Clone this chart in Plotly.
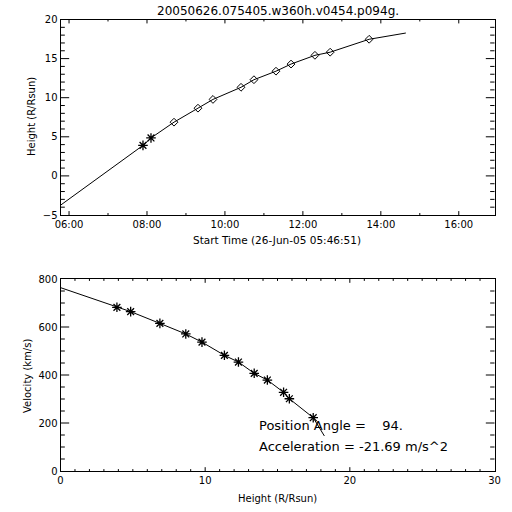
import plotly.graph_objects as go

# ---------------- data ----------------
title_text = "20050626.075405.w360h.v0454.p094g."

c2_times = ["2005-06-26 07:53:50", "2005-06-26 08:06:10"]
c2_heights = [3.9, 4.85]
c3_times = ["2005-06-26 08:41:35", "2005-06-26 09:18:30", "2005-06-26 09:41:35",
            "2005-06-26 10:24:45", "2005-06-26 10:44:40", "2005-06-26 11:18:35",
            "2005-06-26 11:41:45", "2005-06-26 12:18:35", "2005-06-26 12:42:00",
            "2005-06-26 13:42:00"]
c3_heights = [6.87, 8.66, 9.78, 11.33, 12.3, 13.39, 14.3, 15.42, 15.82, 17.47]

fit_times = ["2005-06-26 05:46:51", "2005-06-26 07:53:50",
             "2005-06-26 08:06:10", "2005-06-26 08:41:35", "2005-06-26 09:18:30",
             "2005-06-26 09:41:35", "2005-06-26 10:24:45", "2005-06-26 10:44:40",
             "2005-06-26 11:18:35", "2005-06-26 11:41:45", "2005-06-26 12:18:35",
             "2005-06-26 12:42:00", "2005-06-26 13:42:00", "2005-06-26 14:38:30"]
fit_heights = [-3.75, 3.9, 4.85, 6.87, 8.66, 9.78, 11.33, 12.3, 13.39, 14.3,
               15.42, 15.82, 17.47, 18.27]

vel_heights = [3.9, 4.85, 6.87, 8.66, 9.78, 11.33, 12.3, 13.39, 14.3, 15.42, 15.82, 17.47]
vel_values = [682, 664, 615, 571, 537, 482, 454, 407, 379, 328, 301, 222]
vline_heights = [0.0, 3.9, 4.85, 6.87, 8.66, 9.78, 11.33, 12.3, 13.39, 14.3, 15.42, 15.82, 17.47, 18.24]
vline_values = [764, 682, 664, 615, 571, 537, 482, 454, 407, 379, 328, 301, 222, 146]

time_range = ["2005-06-26 05:46:51", "2005-06-26 16:55:00"]
time_tick0 = "2005-06-26 06:00:00"

# tick positions (major / minor) for each axis
top_x_major = ["2005-06-26 06:00", "2005-06-26 08:00", "2005-06-26 10:00",
               "2005-06-26 12:00", "2005-06-26 14:00", "2005-06-26 16:00"]
top_x_minor = ["2005-06-26 07:00", "2005-06-26 09:00", "2005-06-26 11:00",
               "2005-06-26 13:00", "2005-06-26 15:00"]
top_y_major = [0, 5, 10, 15]
top_y_minor = [-4, -3, -2, -1, 1, 2, 3, 4, 6, 7, 8, 9, 11, 12, 13, 14, 16, 17, 18, 19]
bot_x_major = [10, 20]
bot_x_minor = [1, 2, 3, 4, 5, 6, 7, 8, 9, 11, 12, 13, 14, 15, 16, 17, 18, 19,
               21, 22, 23, 24, 25, 26, 27, 28, 29]
bot_y_major = [200, 400, 600]
bot_y_minor = [50, 100, 150, 250, 300, 350, 450, 500, 550, 650, 700, 750]

x_title_top = "Start Time (26-Jun-05 05:46:51)"
y_title_top = "Height (R/Rsun)"
x_title_bot = "Height (R/Rsun)"
y_title_bot = "Velocity (km/s)"
note_pa = "Position Angle =    94."
note_acc = "Acceleration = -21.69 m/s^2"

# ---------------- figure ----------------
FONT = "DejaVu Sans"
W = H = 512
MAJ, MIN = 0.02, 0.01   # tick length as a fraction of the plot (IDL style)


def px(x):
    return x / W


def py(y):
    return 1 - y / H


fig = go.Figure()

fig.add_trace(go.Scatter(x=fit_times, y=fit_heights, mode="lines",
                         line=dict(color="black", width=1), xaxis="x", yaxis="y",
                         showlegend=False))
fig.add_trace(go.Scatter(x=c2_times, y=c2_heights, mode="markers",
                         marker=dict(symbol="asterisk-open", size=8, color="black",
                                     line=dict(color="black", width=1.3)),
                         xaxis="x", yaxis="y", showlegend=False))
fig.add_trace(go.Scatter(x=c3_times, y=c3_heights, mode="markers",
                         marker=dict(symbol="diamond-open", size=6, color="black",
                                     line=dict(color="black", width=1)),
                         xaxis="x", yaxis="y", showlegend=False))

fig.add_trace(go.Scatter(x=vline_heights, y=vline_values, mode="lines",
                         line=dict(color="black", width=1), xaxis="x2", yaxis="y2",
                         showlegend=False))
fig.add_trace(go.Scatter(x=vel_heights, y=vel_values, mode="markers",
                         marker=dict(symbol="asterisk-open", size=8, color="black",
                                     line=dict(color="black", width=1.3)),
                         xaxis="x2", yaxis="y2", showlegend=False))

base = dict(showline=True, linecolor="black", linewidth=1, showgrid=False,
            zeroline=False, automargin=False, mirror=True, ticks="",
            tickfont=dict(family=FONT, size=10, color="black"))

xdom = [px(60.5), px(494.5)]
ydom_top = [py(215), py(19.5)]
ydom_bot = [py(471), py(279)]

fig.update_layout(
    width=W, height=H,
    margin=dict(l=0, r=0, t=0, b=0),
    paper_bgcolor="white", plot_bgcolor="white",
    font=dict(family=FONT, color="black"),
    hovermode=False,
    xaxis=dict(domain=xdom, anchor="y", type="date", range=time_range,
               tick0=time_tick0, dtick=7200000, tickformat="%H:%M", **base),
    yaxis=dict(domain=ydom_top, anchor="x", range=[-5, 20], dtick=5, **base),
    xaxis2=dict(domain=xdom, anchor="y2", range=[0, 30], dtick=10, **base),
    yaxis2=dict(domain=ydom_bot, anchor="x2", range=[0, 800], dtick=200, **base),
)

# inward ticks on all four sides, placed in axis coordinates
tick_line = dict(color="black", width=1)


def add_x_ticks(vals, xref, yref, length):
    for v in vals:
        fig.add_shape(type="line", xref=xref, yref=yref, x0=v, x1=v, y0=0, y1=length,
                      line=tick_line)
        fig.add_shape(type="line", xref=xref, yref=yref, x0=v, x1=v, y0=1,
                      y1=1 - length, line=tick_line)


def add_y_ticks(vals, xref, yref, length):
    for v in vals:
        fig.add_shape(type="line", xref=xref, yref=yref, y0=v, y1=v, x0=0, x1=length,
                      line=tick_line)
        fig.add_shape(type="line", xref=xref, yref=yref, y0=v, y1=v, x0=1,
                      x1=1 - length, line=tick_line)


add_x_ticks(top_x_major, "x", "y domain", MAJ)
add_x_ticks(top_x_minor, "x", "y domain", MIN)
add_y_ticks(top_y_major, "x domain", "y", MAJ)
add_y_ticks(top_y_minor, "x domain", "y", MIN)
add_x_ticks(bot_x_major, "x2", "y2 domain", MAJ)
add_x_ticks(bot_x_minor, "x2", "y2 domain", MIN)
add_y_ticks(bot_y_major, "x2 domain", "y2", MAJ)
add_y_ticks(bot_y_minor, "x2 domain", "y2", MIN)

ann = [
    dict(text=title_text, x=px(277.5), y=py(11), size=12, angle=0, xanchor="center"),
    dict(text=x_title_top, x=px(277), y=py(240), size=10.5, angle=0, xanchor="center"),
    dict(text=y_title_top, x=px(31), y=py(117), size=10, angle=-90, xanchor="center"),
    dict(text=x_title_bot, x=px(277), y=py(498), size=10, angle=0, xanchor="center"),
    dict(text=y_title_bot, x=px(27), y=py(376), size=10, angle=-90, xanchor="center"),
    dict(text=note_pa.replace(" ", "\u00a0"), x=px(257), y=py(425), size=13, angle=0,
         xanchor="left"),
    dict(text=note_acc.replace(" ", "\u00a0"), x=px(257), y=py(446), size=13, angle=0,
         xanchor="left"),
]
for a in ann:
    fig.add_annotation(text=a["text"], x=a["x"], y=a["y"], xref="paper", yref="paper",
                       showarrow=False, xanchor=a["xanchor"], yanchor="middle",
                       textangle=a["angle"],
                       font=dict(family=FONT, size=a["size"], color="black"))

# the page's default body margin would push the 512x512 figure out of the window
fig.write_html("out.html", config={"displayModeBar": False},
               post_script="document.body.style.margin='0px';")
